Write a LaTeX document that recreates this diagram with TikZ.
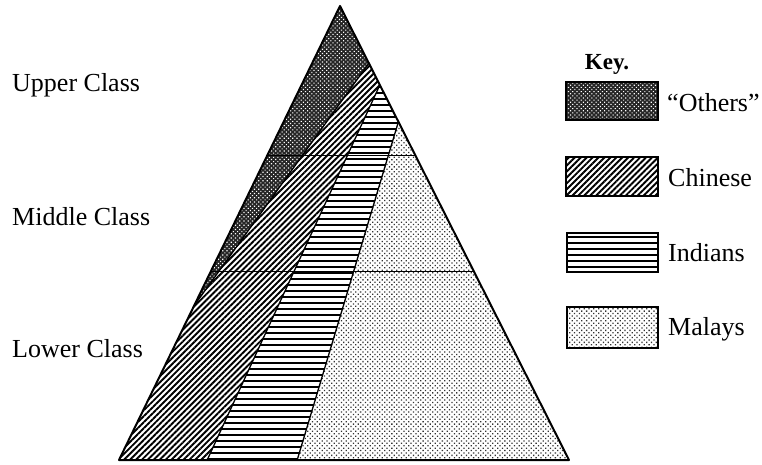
\documentclass[tikz,border=0pt]{standalone}
\usepackage{fontspec}
\setmainfont{Liberation Serif}
\usetikzlibrary{patterns.meta,calc}
\begin{document}
\begin{tikzpicture}[x=1pt,y=-1pt,
  outline/.style={line width=2pt,line join=round},
  divider/.style={line width=1.3pt},
  classline/.style={line width=1pt},
  others/.style={pattern={Dots[radius=0.8pt,distance=3pt,angle=45]},pattern color=white},
  othersbg/.style={fill=black!85},
  chinese/.style={pattern={Lines[angle=45,distance=4.2pt,line width=1.9pt]},pattern color=black},
  indians/.style={pattern={Lines[angle=0,distance=6pt,line width=1.9pt]},pattern color=black},
  malays/.style={pattern={Dots[radius=0.9pt,distance=3.4pt,angle=45]},pattern color=black!80},
  lab/.style={anchor=west,inner sep=0pt,font=\fontsize{26}{28}\selectfont},
  keybox/.style={draw,line width=1.3pt}
]
\useasboundingbox (0,0) rectangle (762,465);
\coordinate (A) at (340,6);
\coordinate (BL) at (119,460);
\coordinate (BR) at (569,460);
\coordinate (R1) at ($(A)!0.126!(BR)$);
\coordinate (R2) at ($(A)!0.174!(BR)$);
\coordinate (R3) at ($(A)!0.255!(BR)$);
\coordinate (L1) at ($(A)!0.66!(BL)$);
\coordinate (B1) at ($(BL)!0.196!(BR)$);
\coordinate (B2) at ($(BL)!0.396!(BR)$);
\coordinate (UL) at ($(A)!0.330!(BL)$);
\coordinate (UR) at ($(A)!0.330!(BR)$);
\coordinate (ML) at ($(A)!0.584!(BL)$);
\coordinate (MR) at ($(A)!0.584!(BR)$);
% regions
\fill[othersbg] (A) -- (R1) -- (L1) -- cycle;
\fill[others] (A) -- (R1) -- (L1) -- cycle;
\fill[chinese] (R1) -- (R2) -- (B1) -- (BL) -- (L1) -- cycle;
\fill[indians] (R2) -- (R3) -- (B2) -- (B1) -- cycle;
\fill[malays] (R3) -- (BR) -- (B2) -- cycle;
% boundaries
\draw[divider] (R1) -- (L1);
\draw[divider] (R2) -- (B1);
\draw[divider] (R3) -- (B2);
\draw[classline] (UL) -- (UR);
\draw[classline] (ML) -- (MR);
\draw[outline] (A) -- (BR) -- (BL) -- cycle;
% class labels
\node[lab] (upper) at (12,85) {Upper Class};
\node[lab] (middle) at (12,217) {Middle Class};
\node[lab] (lower) at (12,349) {Lower Class};
% key
\node[lab,anchor=center,font=\fontsize{23}{25}\selectfont\bfseries] (key) at (607,64) {Key.};
\fill[othersbg] (566,82) rectangle (658,120);
\fill[others] (566,82) rectangle (658,120);
\draw[keybox] (566,82) rectangle (658,120);
\node[lab] (kothers) at (667,103) {\char"201COthers\char"201D};
\fill[chinese] (566,157) rectangle (658,196);
\draw[keybox] (566,157) rectangle (658,196);
\node[lab] (kchinese) at (668,178) {Chinese};
\fill[indians] (567,233) rectangle (658,272);
\draw[keybox] (567,233) rectangle (658,272);
\node[lab] (kindians) at (668,253) {Indians};
\fill[malays] (567,307) rectangle (658,348);
\draw[keybox] (567,307) rectangle (658,348);
\node[lab] (kmalays) at (668,329) {Malays};
\end{tikzpicture}
\end{document}
